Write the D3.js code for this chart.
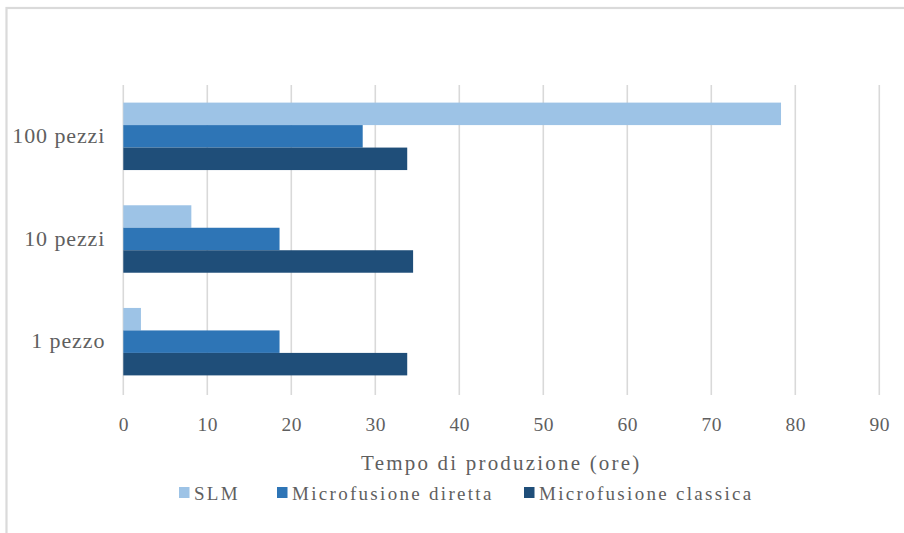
<!DOCTYPE html>
<html>
<head>
<meta charset="utf-8">
<script src="https://cdn.jsdelivr.net/npm/d3@7/dist/d3.min.js"></script>
<style>
  html, body { margin: 0; padding: 0; background: #fff; }
  svg { display: block; }
  text { font-family: "Liberation Serif", "Times New Roman", serif; fill: #5f5f5f; }
</style>
</head>
<body>
<svg id="chart" width="904" height="533"></svg>
<script>
// Production time (hours) per batch size and process
const categories = ["100 pezzi", "10 pezzi", "1 pezzo"];
const seriesNames = ["SLM", "Microfusione diretta", "Microfusione classica"];
const seriesColors = ["#9dc3e6", "#2e75b6", "#1f4e79"];
const slm = [78.3, 8.1, 2.1];
const microDiretta = [28.5, 18.6, 18.6];
const microClassica = [33.8, 34.5, 33.8];
const xTicks = [0, 10, 20, 30, 40, 50, 60, 70, 80, 90];
const xTitle = "Tempo di produzione (ore)";

const seriesValues = [slm, microDiretta, microClassica];

const svg = d3.select("#chart");

// chart-area frame (right and bottom sides fall outside the view)
svg.append("rect")
  .attr("x", 6.5).attr("y", 8)
  .attr("width", 1200).attr("height", 1200)
  .attr("fill", "none")
  .attr("stroke", "#dadada")
  .attr("stroke-width", 2.2);

const plot = { left: 123.3, right: 879.3, top: 85, bottom: 393 };

const x = d3.scaleLinear().domain([0, 90]).range([plot.left, plot.right]);

const y = d3.scaleBand()
  .domain(categories)
  .range([plot.top, plot.bottom])
  .paddingInner(0.343)
  .paddingOuter(0.1715);

const ySub = d3.scaleBand()
  .domain(seriesNames)
  .range([0, y.bandwidth()]);

// vertical gridlines
svg.append("g")
  .selectAll("line")
  .data(xTicks)
  .join("line")
  .attr("x1", d => x(d)).attr("x2", d => x(d))
  .attr("y1", plot.top).attr("y2", plot.bottom + 2)
  .attr("stroke", "#d9d9d9")
  .attr("stroke-width", 1.6);

// bars
const rows = [];
categories.forEach((c, i) => {
  seriesNames.forEach((s, j) => {
    rows.push({ cat: c, series: s, value: seriesValues[j][i], color: seriesColors[j] });
  });
});

svg.append("g")
  .selectAll("rect")
  .data(rows)
  .join("rect")
  .attr("x", x(0))
  .attr("y", d => y(d.cat) + ySub(d.series))
  .attr("width", d => x(d.value) - x(0))
  .attr("height", ySub.bandwidth())
  .attr("fill", d => d.color);

// x axis tick labels
const xAxis = d3.axisBottom(x).tickValues(xTicks).tickSize(0).tickPadding(0);
const gx = svg.append("g")
  .attr("transform", `translate(0, ${plot.bottom + 38})`)
  .call(xAxis);
gx.select(".domain").remove();
gx.selectAll("text")
  .attr("dy", 0)
  .attr("font-size", 19.5)
  .attr("letter-spacing", 0.6)
  .attr("fill", "#5f5f5f")
  .attr("font-family", "Liberation Serif, serif");

// category labels
const yAxis = d3.axisLeft(y).tickSize(0).tickPadding(18);
const gy = svg.append("g")
  .attr("transform", `translate(${plot.left}, 0)`)
  .call(yAxis);
gy.select(".domain").remove();
gy.selectAll("text")
  .attr("dy", "0.3em")
  .attr("font-size", 22)
  .attr("letter-spacing", 0.9)
  .attr("fill", "#5f5f5f")
  .attr("font-family", "Liberation Serif, serif");

// axis title
svg.append("text")
  .attr("x", (plot.left + plot.right) / 2)
  .attr("y", 470)
  .attr("text-anchor", "middle")
  .attr("font-size", 21)
  .attr("letter-spacing", 2.2)
  .text(xTitle);

// legend
const legendX = [179, 277, 524];
const legend = svg.append("g");
seriesNames.forEach((name, j) => {
  const g = legend.append("g").attr("transform", `translate(${legendX[j]}, 0)`);
  g.append("rect")
    .attr("x", 0).attr("y", 487)
    .attr("width", 10.5).attr("height", 11)
    .attr("fill", seriesColors[j]);
  g.append("text")
    .attr("x", 15)
    .attr("y", 499.5)
    .attr("font-size", 19)
    .attr("letter-spacing", 2.3)
    .text(name);
});
</script>
</body>
</html>
